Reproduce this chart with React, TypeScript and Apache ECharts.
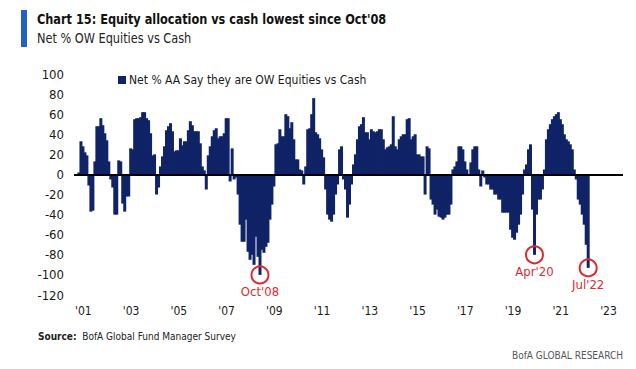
import React, { useEffect, useRef } from "react";
import * as echarts from "echarts";

// Net % of asset allocators saying they are overweight equities vs cash, monthly
const y2001 = [null, null, 2, 33, 28, 22, 19, -11, -37, -36, 13, 48];
const y2002 = [48, 56, 49, 41, 34, 13, -5, -13, -40, -40, 14, 13];
const y2003 = [-29, -37, -22, -22, 26, 25, 55, 56, 56, 57, 62, 62];
const y2004 = [56, 54, 41, 19, 20, -20, -13, 8, 18, 28, 44, 48];
const y2005 = [51, 43, 23, 24, 24, 36, 29, 33, 33, 44, 53, 49];
const y2006 = [43, 43, 43, 31, 8, 4, -15, 19, 28, 38, 44, 46];
const y2007 = [36, 38, 38, 41, 56, 56, -7, 26, -5, -3, -20, -50];
const y2008 = [-67, -67, -45, -77, -85, -80, -90, -62, -82, -100, -75, -78];
const y2009 = [-72, -68, -45, -30, -12, 30, 31, 45, 38, 38, 60, 58];
const y2010 = [46, 52, 35, 15, 15, 5, 4, -10, 8, 45, 46, 60];
const y2011 = [76, 42, 40, 36, 25, 17, -15, -40, -45, -47, -40, -20];
const y2012 = [-10, 25, 28, -5, -15, -43, -30, -10, 10, 20, 35, 48];
const y2013 = [50, 57, 42, 42, 35, 45, 43, 42, 43, 45, 45, 35];
const y2014 = [25, 27, 28, 30, 58, 28, 25, 35, 38, 40, 40, 55];
const y2015 = [56, 35, 38, 40, 20, 20, 18, 18, -20, 28, 26, -25];
const y2016 = [-30, -40, -35, -42, -43, -45, -43, -40, -40, -30, 5, 8];
const y2017 = [13, 28, 28, 25, 13, 5, -1, 12, 25, 28, 28, 5];
const y2018 = [-12, 4, -3, -10, -10, -15, -15, -20, -20, -25, -25, -38];
const y2019 = [-38, -38, -38, -55, -63, -65, -58, -50, -40, -20, 5, 10];
const y2020 = [25, 30, -35, -80, -40, -25, -25, -15, 5, 35, 45, 50];
const y2021 = [55, 58, 60, 62, 55, 50, 40, 35, 33, 30, 25, 5];
const y2022 = [-5, -25, -30, -40, -50, -70, -93];

const seriesValues = [
  ...y2001, ...y2002, ...y2003, ...y2004, ...y2005, ...y2006, ...y2007, ...y2008,
  ...y2009, ...y2010, ...y2011, ...y2012, ...y2013, ...y2014, ...y2015, ...y2016,
  ...y2017, ...y2018, ...y2019, ...y2020, ...y2021, ...y2022,
];

const firstYear = 2001;
const lastYear = 2023;
const months: string[] = [];
for (let y = firstYear; y <= lastYear; y++) {
  for (let m = 1; m <= 12; m++) months.push(`${y}-${String(m).padStart(2, "0")}`);
}

const yMin = -120;
const yMax = 100;
const yStep = 20;

const callouts = [
  { month: "2008-10", value: -100, label: "Oct'08" },
  { month: "2020-04", value: -80, label: "Apr'20" },
  { month: "2022-07", value: -93, label: "Jul'22" },
];

const seriesName = "Net % AA Say they are OW Equities vs Cash";
const titleText = "Chart 15: Equity allocation vs cash lowest since Oct'08";
const subtitleText = "Net % OW Equities vs Cash";

const FONT = "'Liberation Sans Narrow', 'DejaVu Sans Condensed', 'Noto Sans', sans-serif";
const NAVY = "#0f2366";
const RED = "#dd2a2f";

export default function App() {
  const ref = useRef<HTMLDivElement>(null);
  useEffect(() => {
    if (!ref.current) return;
    const chart = echarts.init(ref.current, null, { renderer: "svg" });
    chart.setOption({
      animation: false,
      backgroundColor: "#ffffff",
      textStyle: { fontFamily: FONT },
      grid: { left: 74, right: 13, top: 74, bottom: 74 },
      legend: {
        data: [seriesName],
        left: 113,
        top: 69,
        icon: "rect",
        itemWidth: 8,
        itemHeight: 8,
        itemGap: 4,
        textStyle: { fontFamily: FONT, fontSize: 12, color: "#1a1a1a", padding: [0, 0, 0, -2] },
      },
      xAxis: {
        type: "category",
        data: months,
        boundaryGap: true,
        axisLine: { show: false, onZero: false },
        axisTick: { show: false },
        splitLine: { show: false },
        axisLabel: {
          interval: (_i: number, v: string) => v.endsWith("-01") && (parseInt(v.slice(0, 4), 10) - firstYear) % 2 === 0,
          formatter: (v: string) => "'" + v.slice(2, 4),
          align: "left",
          margin: 10,
          fontFamily: FONT,
          fontSize: 12,
          color: "#1a1a1a",
        },
      },
      yAxis: {
        type: "value",
        min: yMin,
        max: yMax,
        interval: yStep,
        axisLine: { show: false },
        axisTick: { show: false },
        splitLine: { show: false },
        axisLabel: { margin: 10, fontFamily: FONT, fontSize: 13, color: "#1a1a1a" },
      },
      series: [
        {
          name: seriesName,
          type: "bar",
          data: seriesValues,
          barWidth: 3,
          itemStyle: { color: NAVY },
          markLine: {
            silent: true,
            symbol: ["none", "none"],
            label: { show: false },
            lineStyle: { color: "#000000", width: 2, type: "solid" },
            data: [{ yAxis: 0 }],
          },
          markPoint: {
            silent: true,
            symbol: "circle",
            symbolSize: 17,
            itemStyle: { color: "rgba(255,255,255,0)", borderColor: RED, borderWidth: 2 },
            label: {
              show: true,
              position: "bottom",
              distance: 1,
              color: RED,
              fontFamily: FONT,
              fontSize: 13,
              formatter: (p: any) => p.name,
            },
            data: callouts.map((c) => ({ name: c.label, coord: [c.month, c.value] })),
          },
        },
      ],
      graphic: [
        { type: "rect", left: 21, top: 10, shape: { width: 6, height: 37 }, style: { fill: "#2161c4" } },
        {
          type: "text",
          x: 37,
          y: 12,
          scaleX: 0.9,
          style: { text: titleText, font: `bold 14px ${FONT}`, fill: "#111111" },
        },
        {
          type: "text",
          x: 37,
          y: 31,
          scaleX: 0.9,
          style: { text: subtitleText, font: `14px ${FONT}`, fill: "#222222" },
        },
        {
          type: "text",
          left: 38,
          top: 331,
          style: {
            text: "{b|Source:}  BofA Global Fund Manager Survey",
            font: `10px ${FONT}`,
            fill: "#222222",
            rich: { b: { fontWeight: "bold", fontFamily: FONT, fontSize: 10, fill: "#222222" } },
          },
        },
        {
          type: "text",
          right: 13,
          top: 350,
          style: { text: "BofA GLOBAL RESEARCH", font: `10px ${FONT}`, fill: "#555555" },
        },
      ],
    });
    return () => chart.dispose();
  }, []);
  return (
    <div
      ref={ref}
      style={{ position: "absolute", left: 0, top: 0, width: 636, height: 369, background: "#fff" }}
    />
  );
}
